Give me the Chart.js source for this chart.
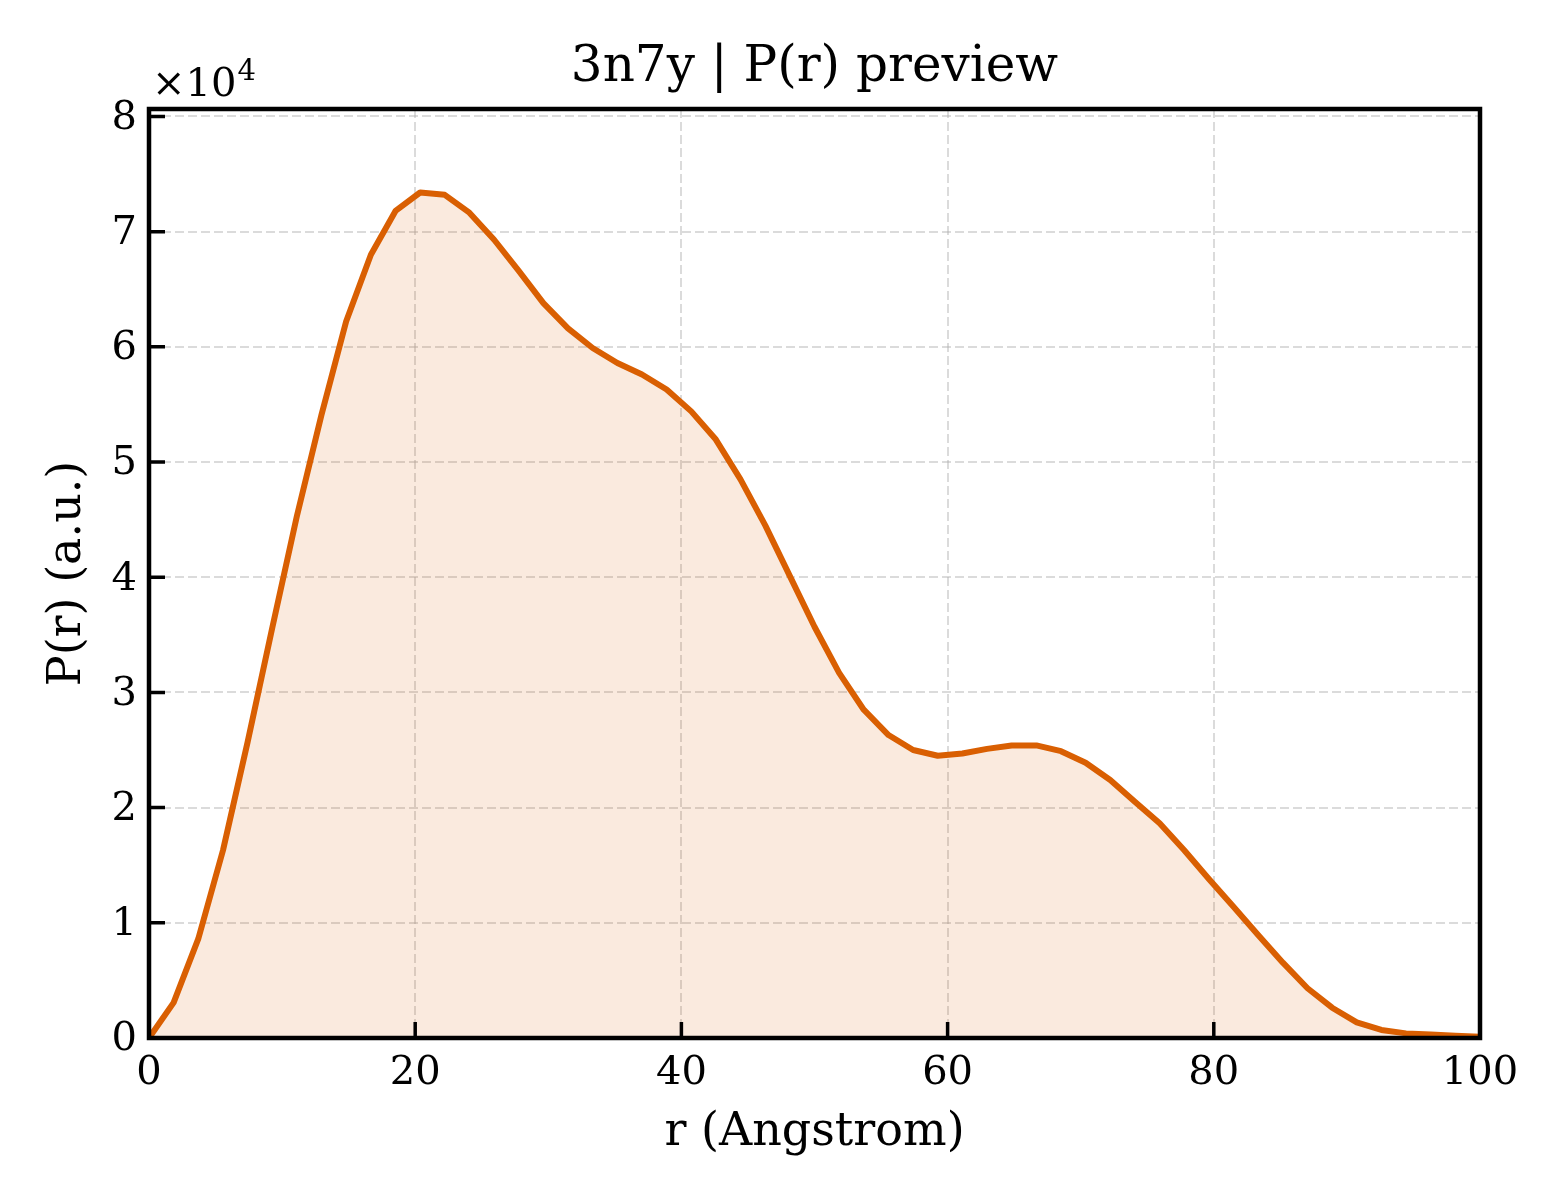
<!DOCTYPE html>
<html>
<head>
<meta charset="utf-8">
<title>3n7y | P(r) preview</title>
<script src="https://cdn.jsdelivr.net/npm/chart.js@4.4.1/dist/chart.umd.min.js"></script>
<style>
  html, body { margin: 0; padding: 0; background: #fff; }
  canvas { display: block; }
</style>
</head>
<body>
<canvas id="prChart" width="1560" height="1200"></canvas>
<script>
// r grid (Angstrom) and P(r) values
const rValues = [
  0, 1.85, 3.70, 5.56, 7.41, 9.26, 11.11, 12.96, 14.81, 16.67,
  18.52, 20.37, 22.22, 24.07, 25.93, 27.78, 29.63, 31.48, 33.33, 35.19,
  37.04, 38.89, 40.74, 42.59, 44.44, 46.30, 48.15, 50.00, 51.85, 53.70,
  55.56, 57.41, 59.26, 61.11, 62.96, 64.81, 66.67, 68.52, 70.37, 72.22,
  74.07, 75.93, 77.78, 79.63, 81.48, 83.33, 85.19, 87.04, 88.89, 90.74,
  92.59, 94.44, 96.30, 98.15, 100
];
const prValues = [
  0, 3070, 8600, 16300, 25700, 35600, 45300, 54100, 62200, 68000,
  71800, 73400, 73200, 71650, 69300, 66600, 63800, 61600, 59900, 58600,
  57600, 56300, 54400, 51950, 48500, 44500, 40100, 35700, 31700, 28500,
  26300, 25000, 24500, 24700, 25100, 25400, 25400, 24900, 23900, 22400,
  20500, 18650, 16300, 13800, 11400, 8950, 6540, 4320, 2630, 1360,
  700, 400, 300, 200, 100
];
const xTicks = [0, 20, 40, 60, 80, 100];
const yTicks = [0, 10000, 20000, 30000, 40000, 50000, 60000, 70000, 80000];
const yMax = 80650;

const serif = "'DejaVu Serif', 'Liberation Serif', serif";
const lineColor = '#d95f02';

// matplotlib-like frame, inward ticks and the x10^4 offset label
const frameTicks = {
  id: 'frameTicks',
  afterDatasetsDraw(chart) {
    const { ctx, chartArea: a, scales } = chart;
    const tickLen = 16;
    ctx.save();
    ctx.strokeStyle = '#000';
    ctx.lineWidth = 3.5;
    ctx.beginPath();
    scales.x.ticks.forEach(t => {
      const px = scales.x.getPixelForValue(t.value);
      ctx.moveTo(px, a.bottom);
      ctx.lineTo(px, a.bottom - tickLen);
    });
    scales.y.ticks.forEach(t => {
      const py = scales.y.getPixelForValue(t.value);
      ctx.moveTo(a.left, py);
      ctx.lineTo(a.left + tickLen, py);
    });
    ctx.stroke();

    ctx.lineWidth = 4.5;
    ctx.strokeRect(a.left, a.top, a.right - a.left, a.bottom - a.top);

    ctx.fillStyle = '#000';
    ctx.textBaseline = 'alphabetic';
    ctx.textAlign = 'left';
    ctx.font = '40px ' + serif;
    ctx.fillText('\u00d710', a.left + 3, 96);
    const w = ctx.measureText('\u00d710').width;
    ctx.font = '29px ' + serif;
    ctx.fillText('4', a.left + 3 + w + 1, 80);
    ctx.restore();
  }
};

window.addEventListener('DOMContentLoaded', () => {
  const ctx = document.getElementById('prChart');

  new Chart(ctx, {
    type: 'line',
    data: {
      datasets: [{
        data: rValues.map((r, i) => ({ x: r, y: prValues[i] })),
        borderColor: lineColor,
        backgroundColor: 'rgba(217, 95, 2, 0.13)',
        borderWidth: 6,
        fill: 'origin',
        tension: 0,
        pointRadius: 0,
        borderJoinStyle: 'round'
      }]
    },
    options: {
      responsive: false,
      devicePixelRatio: 1,
      animation: false,
      layout: { padding: { left: 0, right: 80, top: 0, bottom: 0 } },
      plugins: {
        legend: { display: false },
        tooltip: { enabled: false },
        title: {
          display: true,
          text: '3n7y | P(r) preview',
          fullSize: false,
          color: '#000',
          font: { family: serif, size: 50, weight: 'normal' },
          padding: { top: 38, bottom: 11 }
        }
      },
      scales: {
        x: {
          type: 'linear',
          min: 0,
          max: 100,
          afterBuildTicks: s => { s.ticks = xTicks.map(v => ({ value: v })); },
          afterFit: s => { s.height = 162; },
          grid: { color: 'rgba(176,176,176,0.45)', lineWidth: 2, drawTicks: false },
          border: { display: false, dash: [9, 4] },
          ticks: {
            color: '#000',
            padding: 12,
            maxRotation: 0,
            font: { family: serif, size: 40 }
          },
          title: {
            display: true,
            text: 'r (Angstrom)',
            color: '#000',
            font: { family: serif, size: 46 },
            padding: { top: 0, bottom: 39 }
          }
        },
        y: {
          type: 'linear',
          min: 0,
          max: yMax,
          afterBuildTicks: s => { s.ticks = yTicks.map(v => ({ value: v })); },
          afterFit: s => { s.width = 149; },
          grid: { color: 'rgba(176,176,176,0.45)', lineWidth: 2, drawTicks: false },
          border: { display: false, dash: [9, 4] },
          ticks: {
            color: '#000',
            padding: 12,
            labelOffset: 2,
            font: { family: serif, size: 40 },
            callback: v => String(v / 10000)
          },
          title: {
            display: true,
            text: 'P(r) (a.u.)',
            color: '#000',
            font: { family: serif, size: 46 },
            padding: { top: 40, bottom: 0 }
          }
        }
      }
    },
    plugins: [frameTicks]
  });
});
</script>
</body>
</html>
